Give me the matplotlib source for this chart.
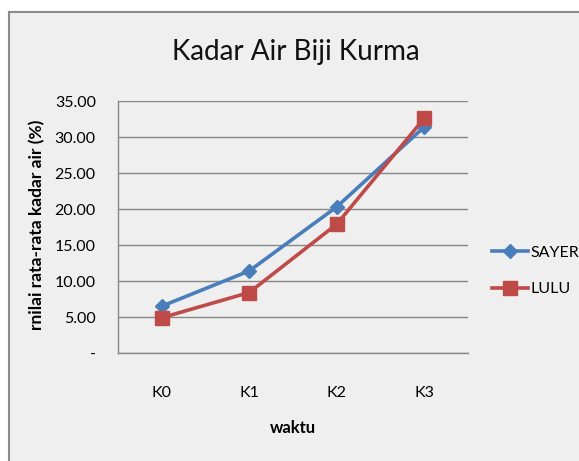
import matplotlib
matplotlib.use("Agg")
import matplotlib.pyplot as plt
from matplotlib.patches import Rectangle

plt.rcParams['font.family'] = ['Lato', 'DejaVu Sans']

kategori = ["K0", "K1", "K2", "K3"]
sayer = [6.5, 11.4, 20.3, 31.4]
lulu = [4.9, 8.4, 17.9, 32.6]
yticks = [0, 5, 10, 15, 20, 25, 30, 35]
ytick_labels = ["-", "5.00", "10.00", "15.00", "20.00", "25.00", "30.00", "35.00"]

BG = "#efefef"
W, H = 579, 461

fig = plt.figure(figsize=(W / 100, H / 100), dpi=100)
fig.patch.set_facecolor("white")
# chart area frame
fig.patches.append(Rectangle((9 / W, -0.01), 1.0, 1 - 12 / H + 0.01,
                             transform=fig.transFigure, facecolor=BG,
                             edgecolor="#8a8a8a", linewidth=1.5, zorder=-1))

ax = fig.add_axes([118 / W, 1 - 353 / H, 350 / W, 252 / H])
ax.set_zorder(2)
ax.set_facecolor(BG)

x = list(range(len(kategori)))
ax.plot(x, sayer, color="#4a7ebb", linewidth=2.6, marker="D", markersize=7.5,
        label="SAYER", zorder=3)
ax.plot(x, lulu, color="#be4b48", linewidth=2.6, marker="s", markersize=9.5,
        label="LULU", zorder=3)

ax.set_xlim(-0.5, 3.5)
ax.set_ylim(0, 35)
ax.set_yticks(yticks)
ax.set_yticklabels(ytick_labels, fontsize=11.5)
ax.set_xticks(x)
ax.set_xticklabels(kategori, fontsize=11.5)
ax.tick_params(axis="y", length=0, pad=16)
ax.tick_params(axis="x", length=0, pad=24)
ax.grid(axis="y", color="#878787", linewidth=1)
ax.set_axisbelow(True)
for s in ["top", "right"]:
    ax.spines[s].set_visible(False)
for s in ["left", "bottom"]:
    ax.spines[s].set_color("#878787")
    ax.spines[s].set_linewidth(1)

fig.text(296 / W, 1 - 52 / H, "Kadar Air Biji Kurma", fontsize=20,
         ha="center", va="center", zorder=3, color="#111111")
fig.text(37 / W, 1 - 225 / H, "rnilai rata-rata kadar air (%)", fontsize=12.5,
         fontweight="bold", rotation=90, ha="center", va="center", zorder=3)
fig.text(293 / W, 1 - 428 / H, "waktu", fontsize=12, fontweight="bold",
         ha="center", va="center", zorder=3)

leg = ax.legend(loc="center left", bbox_to_anchor=(486 / W, 1 - 271 / H),
                bbox_transform=fig.transFigure, frameon=False, fontsize=11.5,
                handlelength=2.2, handletextpad=0.2, labelspacing=1.4,
                borderaxespad=0)

fig.savefig("out.png", dpi=100)
